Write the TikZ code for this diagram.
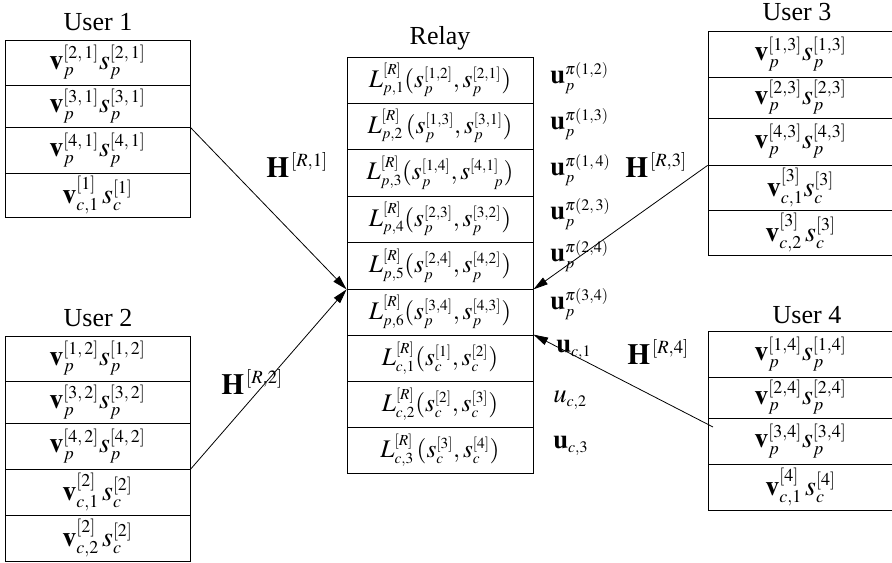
\documentclass[tikz,border=0pt]{standalone}
\usepackage{mathptmx}
\usepackage[no-math]{fontspec}
\setmainfont{Liberation Serif}
\usetikzlibrary{arrows.meta}
\DeclareMathSizes{19}{19}{11.5}{9}
\DeclareMathSizes{20}{20}{12}{9}
\DeclareMathSizes{21}{21}{13.5}{10}
\DeclareMathSizes{22}{22}{14}{10}

% \cellbox[style]{name}{x1}{y1}{x2}{y2}{content}: one framed row of a stack
\newcommand\cellbox[7][cell]{%
  \node[#1, minimum width={(#5-#3)*0.75pt}, minimum height={(#6-#4)*0.75pt}]
    (#2) at ({(#3+#5)/2},{(#4+#6)/2}) {#7};}

\begin{document}
\begin{tikzpicture}[x=0.75pt, y=-0.75pt,
  cell/.style={draw=black, line width=0.6pt, inner sep=0pt,
    font=\fontsize{21}{25}\selectfont},
  relaycell/.style={cell, font=\fontsize{19}{23}\selectfont},
  title/.style={inner sep=0pt, font=\fontsize{19.5}{23}\selectfont},
  ulab/.style={anchor=west, inner sep=0pt, font=\fontsize{20}{24}\selectfont},
  hlab/.style={anchor=base west, inner sep=0pt, font=\fontsize{22}{26}\selectfont},
  arr/.style={line width=0.6pt, -{Triangle[length=11pt,width=6pt]}}]
\useasboundingbox (0,0) rectangle (892,563);

% ---- User 1 ----
\node[title] (t1) at (98,22) {User 1};
\cellbox{u1a}{5}{40}{190}{85}{$\mathbf{v}_p^{[2,\,1]}s_p^{[2,\,1]}$}
\cellbox{u1b}{5}{85}{190}{127}{$\mathbf{v}_p^{[3,\,1]}s_p^{[3,\,1]}$}
\cellbox{u1c}{5}{127}{190}{173}{$\mathbf{v}_p^{[4,\,1]}s_p^{[4,\,1]}$}
\cellbox{u1d}{5}{173}{190}{217}{$\mathbf{v}_{c,1}^{[1]}\,s_c^{[1]}$}

% ---- User 2 ----
\node[title] (t2) at (98,318) {User 2};
\cellbox{u2a}{5}{336}{190}{381}{$\mathbf{v}_p^{[1,\,2]}s_p^{[1,\,2]}$}
\cellbox{u2b}{5}{381}{190}{423}{$\mathbf{v}_p^{[3,\,2]}s_p^{[3,\,2]}$}
\cellbox{u2c}{5}{423}{190}{469}{$\mathbf{v}_p^{[4,\,2]}s_p^{[4,\,2]}$}
\cellbox{u2d}{5}{469}{190}{515}{$\mathbf{v}_{c,1}^{[2]}\,s_c^{[2]}$}
\cellbox{u2e}{5}{515}{190}{561}{$\mathbf{v}_{c,2}^{[2]}\,s_c^{[2]}$}

% ---- Relay ----
\node[title] (tr) at (440,38) {Relay};
\cellbox[relaycell]{r1}{347}{57}{533}{103}{$L_{p,1}^{[R]}(s_p^{[1,2]},s_p^{[2,1]})$}
\cellbox[relaycell]{r2}{347}{103}{533}{149}{$L_{p,2}^{[R]}\,(s_p^{[1,3]},s_p^{[3,1]})$}
\cellbox[relaycell]{r3}{347}{149}{533}{196}{$L_{p,3}^{[R]}(s_p^{[1,4]},s^{[4,1]}_{\hphantom{[4,1}p})$}
\cellbox[relaycell]{r4}{347}{196}{533}{242}{$L_{p,4}^{[R]}(s_p^{[2,3]},s_p^{[3,2]})$}
\cellbox[relaycell]{r5}{347}{242}{533}{289}{$L_{p,5}^{[R]}(s_p^{[2,4]},s_p^{[4,2]})$}
\cellbox[relaycell]{r6}{347}{289}{533}{335}{$L_{p,6}^{[R]}(s_p^{[3,4]},s_p^{[4,3]})$}
\cellbox[relaycell]{r7}{347}{335}{533}{381}{$L_{c,1}^{[R]}(s_c^{[1]},s_c^{[2]})$}
\cellbox[relaycell]{r8}{347}{381}{533}{427}{$L_{c,2}^{[R]}(s_c^{[2]},s_c^{[3]})$}
\cellbox[relaycell]{r9}{347}{427}{533}{473}{$L_{c,3}^{[R]}\,(s_c^{[3]},s_c^{[4]})$}

% ---- relay beamformers ----
\node[ulab] (up12) at (550,78)  {$\mathbf{u}_p^{\pi(1,2)}$};
\node[ulab] (up13) at (550,124) {$\mathbf{u}_p^{\pi(1,3)}$};
\node[ulab] (up14) at (550,170) {$\mathbf{u}_p^{\pi(1,\,4)}$};
\node[ulab] (up23) at (550,214) {$\mathbf{u}_p^{\pi(2,\,3)}$};
\node[ulab] (up24) at (550,256) {$\mathbf{u}_p^{\pi(2,4)}$};
\node[ulab] (up34) at (550,304) {$\mathbf{u}_p^{\pi(3,4)}$};
\node[ulab] (uc1)  at (556,350) {$\mathbf{u}_{c,1}$};
\node[ulab] (uc2)  at (553,400) {$u_{c,2}$};
\node[ulab] (uc3)  at (553,446) {$\mathbf{u}_{c,3}$};

% ---- User 3 ----
\node[title] (t3) at (797,12) {User 3};
\cellbox{u3a}{708}{31}{893}{77}{$\mathbf{v}_p^{[1,3]}s_p^{[1,3]}$}
\cellbox{u3b}{708}{77}{893}{118}{$\mathbf{v}_p^{[2,3]}s_p^{[2,3]}$}
\cellbox{u3c}{708}{118}{893}{165}{$\mathbf{v}_p^{[4,3]}s_p^{[4,3]}$}
\cellbox{u3d}{708}{165}{893}{210}{$\mathbf{v}_{c,1}^{[3]}s_c^{[3]}$}
\cellbox{u3e}{708}{210}{893}{255}{$\mathbf{v}_{c,2}^{[3]}\,s_c^{[3]}$}

% ---- User 4 ----
\node[title] (t4) at (807,315) {User 4};
\cellbox{u4a}{708}{331}{893}{377}{$\mathbf{v}_p^{[1,4]}s_p^{[1,4]}$}
\cellbox{u4b}{708}{377}{893}{418}{$\mathbf{v}_p^{[2,4]}s_p^{[2,4]}$}
\cellbox{u4c}{708}{418}{893}{464}{$\mathbf{v}_p^{[3,4]}s_p^{[3,4]}$}
\cellbox{u4d}{708}{464}{893}{510}{$\mathbf{v}_{c,1}^{[4]}\,s_c^{[4]}$}

% ---- channels ----
\coordinate (h4end) at (713,427);
\draw[arr] (u1b.south east) -- (r5.south west);
\draw[arr] (u2c.south east) -- (r5.south west);
\draw[arr] (u3c.south west) -- (r5.south east);
\draw[arr] (h4end) -- (r7.north east);

\node[hlab] (h1) at (266,177) {$\mathbf{H}^{\,[R,1]}$};
\node[hlab] (h2) at (221,394) {$\mathbf{H}^{\,[R,2]}$};
\node[hlab] (h3) at (625,177) {$\mathbf{H}^{\,[R,3]}$};
\node[hlab] (h4) at (627,364) {$\mathbf{H}^{\,[R,4]}$};
\end{tikzpicture}
\end{document}
